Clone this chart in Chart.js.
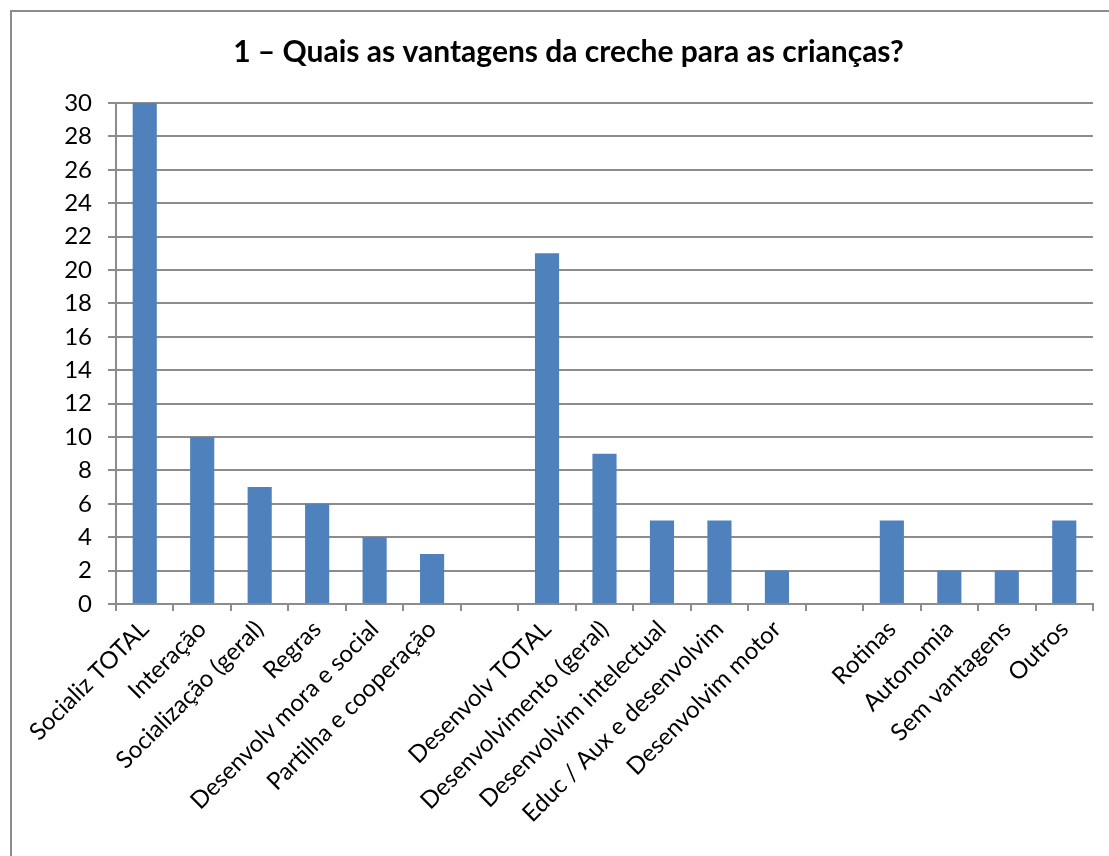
<!DOCTYPE html>
<html>
<head>
<meta charset="utf-8">
<script src="https://cdn.jsdelivr.net/npm/chart.js@4"></script>
<style>
    html, body { margin: 0; padding: 0; background: #fff; overflow: hidden; }
    #moldura {
        position: absolute; left: 10px; top: 10px;
        width: 1120px; height: 870px;
        border: 2px solid #8c8c8c; box-sizing: border-box;
    }
    #grafico { position: absolute; left: 0; top: 0; }
</style>
</head>
<body>
<div id="moldura"></div>
<canvas id="grafico" width="1109" height="856"></canvas>
<script>
/*
 * Dados do gráfico
 */
const categorias = [
    'Socializ TOTAL', 'Interação', 'Socialização (geral)', 'Regras',
    'Desenvolv mora e social', 'Partilha e cooperação', '',
    'Desenvolv TOTAL', 'Desenvolvimento (geral)', 'Desenvolvim intelectual',
    'Educ / Aux e desenvolvim', 'Desenvolvim motor', '',
    'Rotinas', 'Autonomia', 'Sem vantagens', 'Outros'
];
const valores = [30, 10, 7, 6, 4, 3, null, 21, 9, 5, 5, 2, null, 5, 2, 2, 5];
const titulo = '1 – Quais as vantagens da creche para as crianças?';
const eixoY = { min: 0, max: 30, passo: 2 };

const fonte = 'Lato, "Open Sans", sans-serif';
const cinza = '#8c8c8c';

/*
 * Desenho do gráfico de barras
 */
document.addEventListener("DOMContentLoaded", function() {
    const ctx = document.getElementById('grafico').getContext('2d');

    new Chart(ctx, {
        type: 'bar',
        data: {
            labels: categorias,
            datasets: [{
                data: valores,
                backgroundColor: '#4f81bd',
                borderWidth: 0,
                categoryPercentage: 1,
                barPercentage: 0.42
            }]
        },
        options: {
            responsive: false,
            animation: false,
            layout: { padding: { left: 44, right: 16, top: 0, bottom: 0 } },
            plugins: {
                legend: { display: false },
                tooltip: { enabled: false },
                title: {
                    display: true,
                    text: titulo,
                    color: '#000',
                    font: { family: fonte, size: 30, weight: 'bold' },
                    padding: { top: 34, bottom: 33 }
                }
            },
            scales: {
                x: {
                    grid: {
                        offset: true,
                        drawOnChartArea: false,
                        drawTicks: true,
                        tickLength: 7,
                        color: cinza,
                        lineWidth: 2
                    },
                    border: { color: cinza, width: 2 },
                    ticks: {
                        autoSkip: false,
                        maxRotation: 45,
                        minRotation: 45,
                        color: '#000',
                        padding: 4,
                        font: { family: fonte, size: 24 }
                    },
                    afterFit: function(scale) { scale.height = 252; }
                },
                y: {
                    min: eixoY.min,
                    max: eixoY.max,
                    grid: {
                        color: cinza,
                        lineWidth: 2,
                        tickLength: 8
                    },
                    border: { color: cinza, width: 2 },
                    ticks: {
                        stepSize: eixoY.passo,
                        color: '#000',
                        padding: 16,
                        font: { family: fonte, size: 24 }
                    },
                    afterFit: function(scale) { scale.width = 72; }
                }
            }
        }
    });
});
</script>
</body>
</html>
